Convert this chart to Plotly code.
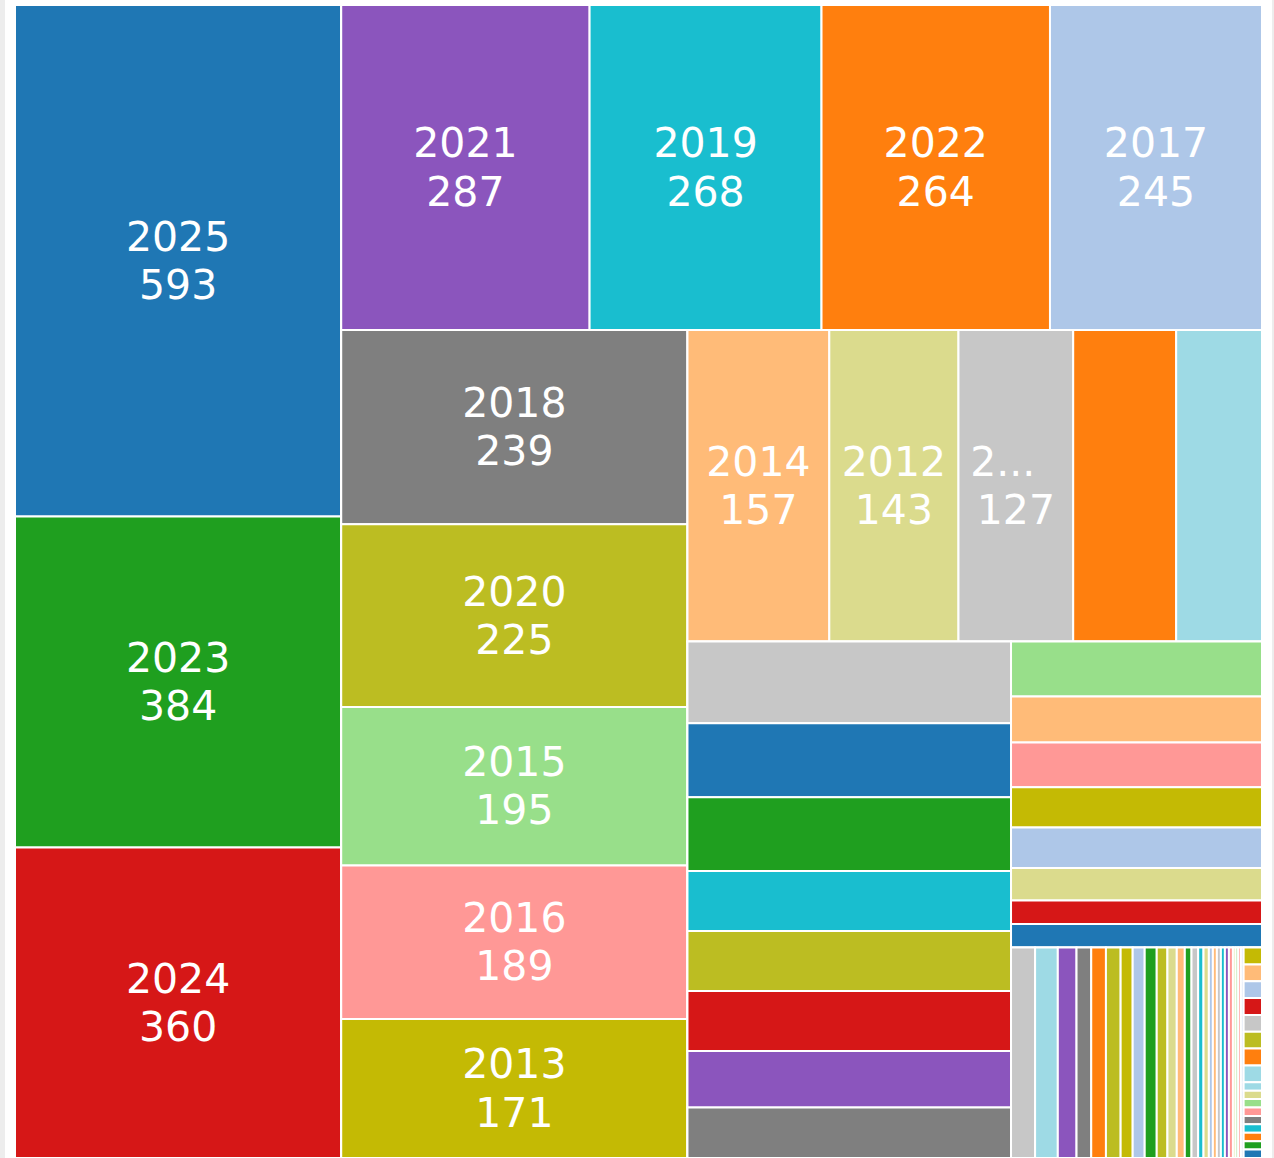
import plotly.graph_objects as go

# ---------------- data ----------------
years = ["2025", "2023", "2024",
         "2021", "2019", "2022", "2017",
         "2018", "2020", "2015", "2016", "2013",
         "2014", "2012", "2011", "2010", "2009",
         "2008", "2007", "2006", "2005", "2004", "2003", "2002", "2001",
         "2000", "1999", "1998", "1997", "1996", "1995", "1994", "1993",
         "1992", "1991", "1990", "1989", "1988", "1987", "1986", "1985", "1984",
         "1983", "1982", "1981", "1980", "1979", "1978", "1977", "1976", "1975",
         "1974", "1973", "1972", "1971", "1970", "1969", "1968", "1967",
         "1966", "1965", "1964", "1963", "1962", "1961", "1960", "1959",
         "1958", "1957", "1956", "1955", "1954", "1953", "1952", "1951", "1950"]
counts = [593, 384, 360,
          287, 268, 264, 245,
          239, 225, 195, 189, 171,
          157, 143, 127, 114, 95,
          94, 85, 85, 69, 69, 69, 65, 58,
          49, 41, 40, 36, 36, 29, 21, 21,
          18, 17, 14, 11, 11, 11, 9, 9, 9,
          8, 7, 6, 5, 5, 4, 4, 3, 3,
          3, 3, 3, 3, 2, 2, 2, 2,
          1.1, 1.1, 1.1, 1.1, 1.1, 1.1, 1.1, 1.1,
          0.55, 0.55, 0.55, 0.55, 0.55, 0.55, 0.55, 0.55, 0.55]
# text shown in the tiles (the 2011 label is truncated in the reference)
shown_labels = {"2011": "2...&nbsp;&nbsp;"}
# how many tiles each strip of the layout holds
row_sizes = [3, 4, 5, 5, 8, 8, 26, 17]

# ---------------- styles ----------------
C = {"blue": "#1f77b4", "lblue": "#aec7e8", "orange": "#ff7f0e", "peach": "#ffbb78",
     "green": "#1f9f1f", "lgreen": "#98df8a", "red": "#d61717", "pink": "#ff9896",
     "purple": "#8b55bd", "grey": "#7f7f7f", "lgrey": "#c7c7c7", "olive": "#bcbd22",
     "lolive": "#dbdb8d", "mustard": "#c4ba04", "cyan": "#19becf", "lcyan": "#9edae5"}
color_names = ["blue", "green", "red",
               "purple", "cyan", "orange", "lblue",
               "grey", "olive", "lgreen", "pink", "mustard",
               "peach", "lolive", "lgrey", "orange", "lcyan",
               "lgrey", "blue", "green", "cyan", "olive", "red", "purple", "grey",
               "lgreen", "peach", "pink", "mustard", "lblue", "lolive", "red", "blue",
               "lgrey", "lcyan", "purple", "grey", "orange", "olive", "mustard", "lblue", "green",
               "olive", "lolive", "peach", "green", "lgrey", "cyan", "lolive", "lblue", "peach",
               "lgrey", "cyan", "purple", "pink", "lolive", "lgreen", "pink", "lblue",
               "mustard", "peach", "lblue", "red", "lgrey", "olive", "orange", "lcyan",
               "lcyan", "lolive", "lgreen", "pink", "grey", "cyan", "orange", "green", "blue"]

# ---------------- build the hierarchy (strips nested inside the remainder) ----------------
ids, labels, parents, values, colors, texts = [], [], [], [], [], []


def add(node_id, label, parent, value, color, text):
    ids.append(node_id); labels.append(label); parents.append(parent)
    values.append(value); colors.append(color); texts.append(text)


def fmt(v):
    return str(int(v)) if float(v).is_integer() else str(v)


def leaf_text(i):
    lab = shown_labels.get(years[i], years[i])
    return ("<span style='font-size:41px'>%s</span><br>"
            "<span style='font-size:41px'>%s</span>" % (lab, fmt(counts[i])))


rows, start = [], 0
for n in row_sizes:
    rows.append(list(range(start, start + n)))
    start += n

rest_parent = ""
for r, idxs in enumerate(rows):
    if r < 5:
        gid = "row%d" % r
        add(gid, "", rest_parent, 0, "white", "")
        for i in idxs:
            add(years[i], years[i], gid, counts[i], C[color_names[i]], leaf_text(i))
        rid = "rest%d" % r
        add(rid, "", rest_parent, 0, "white", "")
        rest_parent = rid
    else:
        for i in idxs:
            add(years[i], years[i], rest_parent, counts[i], C[color_names[i]], leaf_text(i))
        if r < len(rows) - 1:
            rid = "rest%d" % r
            add(rid, "", rest_parent, 0, "white", "")
            rest_parent = rid

fig = go.Figure(go.Treemap(
    ids=ids, labels=labels, parents=parents, values=values,
    branchvalues="remainder", sort=False,
    tiling=dict(packing="slice-dice", pad=0),
    marker=dict(colors=colors, line=dict(color="white", width=2),
                pad=dict(t=0, l=0, r=0, b=0), depthfade=False),
    text=texts, textinfo="text", textposition="middle center",
    textfont=dict(family="DejaVu Sans", size=37, color="white"),
    pathbar=dict(visible=False),
    root=dict(color="white"),
    hoverinfo="label+value",
))
fig.update_layout(
    width=1267, height=1158,
    margin=dict(l=10, r=10, t=5, b=0),
    paper_bgcolor="white",
    uniformtext=dict(minsize=37, mode="hide"),
)

fig.write_html(
    "out.html",
    post_script="document.body.style.margin='0';document.body.style.paddingLeft='5px';"
                "document.body.style.background='#ededed';document.body.style.overflow='hidden';",
)
